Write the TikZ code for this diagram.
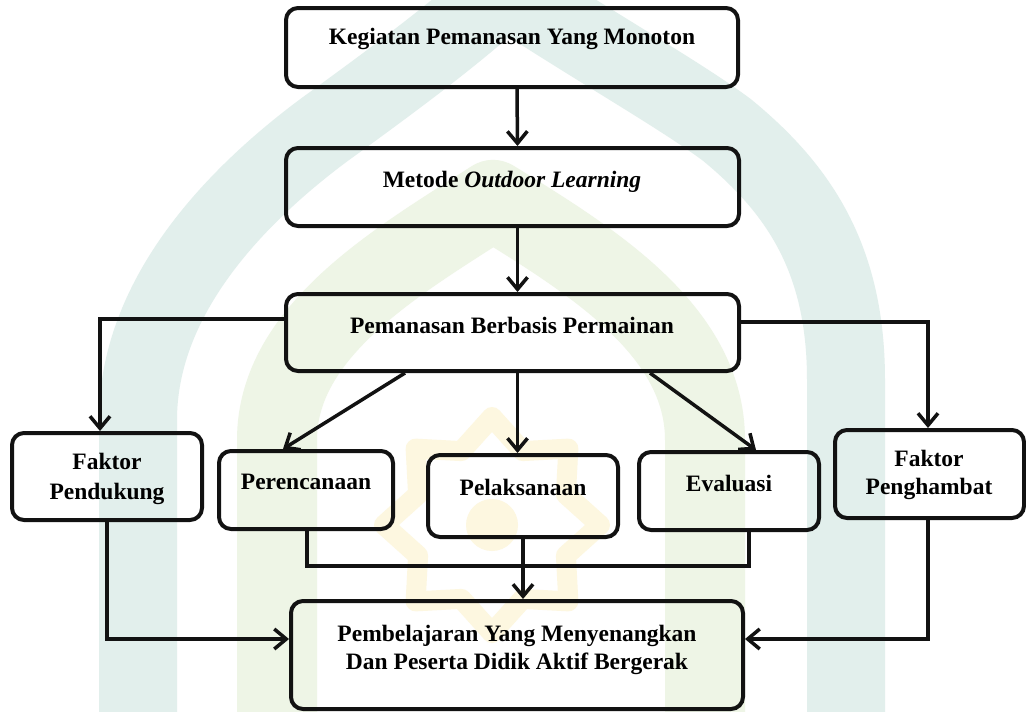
\documentclass[tikz,border=0pt]{standalone}
\usepackage{fontspec}
\setmainfont{Liberation Serif}
\usetikzlibrary{arrows.meta}
\definecolor{wmteal}{RGB}{226,239,236}
\definecolor{wmgreen}{RGB}{238,245,230}
\definecolor{wmyellow}{RGB}{253,247,224}
\definecolor{ink}{RGB}{18,18,18}
\begin{document}
\begin{tikzpicture}[x=1pt,y=-1pt,
  box/.style={draw=ink, line width=4pt, rounded corners=12pt, inner sep=0pt},
  txt/.style={font=\bfseries\fontsize{23.5}{28}\selectfont, anchor=base, align=center, inner sep=0pt},
  conn/.style={draw=ink, line width=3.5pt},
  arr/.style={conn, -{Straight Barb[length=12pt,width=20pt]}},
  wm/.style={line width=#1, line cap=butt}]
\useasboundingbox (0,0) rectangle (1026,712);
\fill[white] (0,0) rectangle (1026,712);
% watermark
\draw[wmteal, wm=78pt, line join=round] (138,730) -- (138,420) .. controls (138,300) and (230,200) .. (324,130) .. controls (400,75) and (460,30) .. (505,-12) .. controls (600,50) and (680,95) .. (727,130) .. controls (800,190) and (846,260) .. (846,380) -- (846,730);
\draw[wmgreen, wm=80pt, line join=round] (277,730) -- (277,440) .. controls (277,330) and (400,260) .. (493,200) .. controls (590,260) and (705,330) .. (705,440) -- (705,730);
\begin{scope}[shift={(492,525)}]
\draw[wmyellow, wm=20pt, line join=round] (0:108) -- (22.5:80) -- (45:108) -- (67.5:80) -- (90:108) -- (112.5:80) -- (135:108) -- (157.5:80) -- (180:108) -- (202.5:80) -- (225:108) -- (247.5:80) -- (270:108) -- (292.5:80) -- (315:108) -- (337.5:80) -- cycle;
\fill[wmyellow] (0,0) circle (26pt);
\end{scope}
% boxes
\node[box, minimum width=452pt, minimum height=79pt] (b1) at (512,47.5) {};
\node[box, minimum width=453pt, minimum height=78pt] (b2) at (512.5,187) {};
\node[box, minimum width=453pt, minimum height=77pt] (b3) at (512.5,332.5) {};
\node[box, minimum width=190pt, minimum height=87pt] (fp) at (107,476.5) {};
\node[box, minimum width=174pt, minimum height=78pt] (per) at (306,490) {};
\node[box, minimum width=190pt, minimum height=82pt] (pel) at (523,496) {};
\node[box, minimum width=180pt, minimum height=78pt] (eva) at (729,491) {};
\node[box, minimum width=189pt, minimum height=88pt] (fh) at (929.5,474) {};
\node[box, minimum width=452pt, minimum height=108pt] (out) at (517,655) {};
% texts
\node[txt] (t1) at (512,45) {Kegiatan Pemanasan Yang Monoton};
\node[txt] (t2) at (512,187) {Metode \textit{Outdoor Learning}};
\node[txt] (t3) at (512,333) {Pemanasan Berbasis Permainan};
\node[txt, font=\bfseries\fontsize{23.5}{30}\selectfont] (tfp) at (107,499) {Faktor\\Pendukung};
\node[txt] (tper) at (306,489) {Perencanaan};
\node[txt] (tpel) at (523,495) {Pelaksanaan};
\node[txt] (teva) at (729,491) {Evaluasi};
\node[txt] (tfh) at (929,494) {Faktor\\Penghambat};
\node[txt] (tout) at (517,669) {Pembelajaran Yang Menyenangkan\\Dan Peserta Didik Aktif Bergerak};
% connectors
\draw[arr] ([xshift=5pt]b1.south) -- ([xshift=5pt]b2.north);
\draw[arr] ([xshift=5pt]b2.south) -- ([xshift=5pt]b3.north);
\draw[arr] ([yshift=13.5pt]b3.west) -| ([xshift=-7pt]fp.north);
\draw[arr] ([yshift=10.5pt]b3.east) -| ([xshift=-1.5pt]fh.north);
\draw[arr] ([xshift=-107.5pt]b3.south) -- ([xshift=-23pt]per.north);
\draw[arr] ([xshift=5pt]b3.south) -- ([xshift=-5.5pt]pel.north);
\draw[arr] ([xshift=137.5pt]b3.south) -- ([xshift=27pt]eva.north);
\coordinate (m) at (523,566);
\draw[conn] ([xshift=1pt]per.south) |- (m) -| ([xshift=20pt]eva.south);
\draw[arr] (pel.south) -- (pel.south |- out.north);
\draw[arr] (fp.south) |- ([yshift=16pt]out.west);
\draw[arr] ([xshift=-1.5pt]fh.south) |- ([yshift=16pt]out.east);
\end{tikzpicture}
\end{document}
